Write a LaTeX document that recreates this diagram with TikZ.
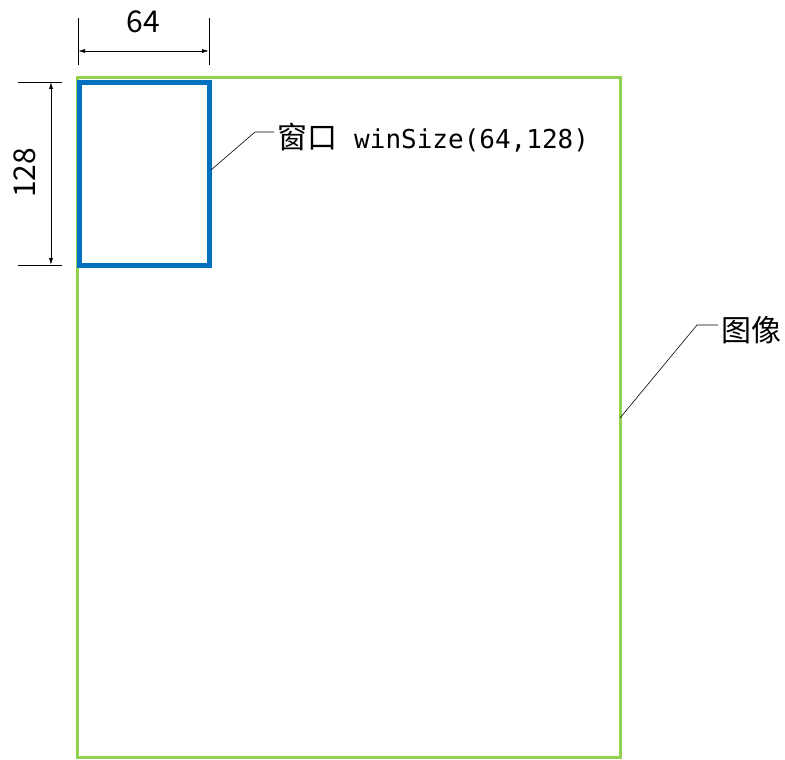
\documentclass[tikz,border=0pt]{standalone}
\usepackage{fontspec}
\setmainfont{Noto Sans CJK SC}
\newfontfamily\monofnt{DejaVu Sans Mono}
\usetikzlibrary{arrows.meta}
\definecolor{imggreen}{HTML}{92D050}
\definecolor{winblue}{HTML}{0070C0}
\begin{document}
\begin{tikzpicture}[x=1pt,y=-1pt,
  dimline/.style={line width=0.8pt,{Latex[length=7pt,width=4pt]}-{Latex[length=7pt,width=4pt]}},
  extline/.style={line width=0.8pt},
  leader/.style={line width=0.6pt},
  lbl/.style={inner sep=0pt,font=\fontsize{30}{34}\selectfont}]
\useasboundingbox (0,0) rectangle (785,760);
% image
\draw[imggreen,line width=3pt] (77,78) rectangle (620,757);
\coordinate (imgR) at (620,418);
% window
\draw[winblue,line width=5pt] (79,83) rectangle (209,265);
\coordinate (winR) at (211,170);
% top dimension
\coordinate (t1) at (78,18); \coordinate (t1b) at (78,65);
\coordinate (t2) at (209,18); \coordinate (t2b) at (209,65);
\draw[extline] (t1) -- (t1b);
\draw[extline] (t2) -- (t2b);
\coordinate (d1) at (78,51); \coordinate (d2) at (209,51);
\draw[dimline] (d1) -- (d2);
\node[lbl,anchor=base] (w64) at (143.5,33) {64};
% left dimension
\coordinate (l1) at (18,82); \coordinate (l1b) at (62,82);
\coordinate (l2) at (18,265); \coordinate (l2b) at (62,265);
\draw[extline] (l1) -- (l1b);
\draw[extline] (l2) -- (l2b);
\coordinate (e1) at (51,82); \coordinate (e2) at (51,265);
\draw[dimline] (e1) -- (e2);
\node[lbl,anchor=base,rotate=90] (h128) at (35,173) {128};
% window label
\node[lbl,anchor=west] (winlbl) at (277,138) {窗口\hspace{17pt}{\monofnt\fontsize{26}{30}\selectfont winSize(64,128)}};
\coordinate (wk) at (255,132);
\draw[leader] (winR) -- (wk) -- ([xshift=-3pt]winlbl.west |- wk);
% image label
\node[lbl,anchor=west] (imglbl) at (721,330) {图像};
\coordinate (ik) at (697,325);
\draw[leader] (imgR) -- (ik) -- ([xshift=-3pt]imglbl.west |- ik);
\end{tikzpicture}
\end{document}
